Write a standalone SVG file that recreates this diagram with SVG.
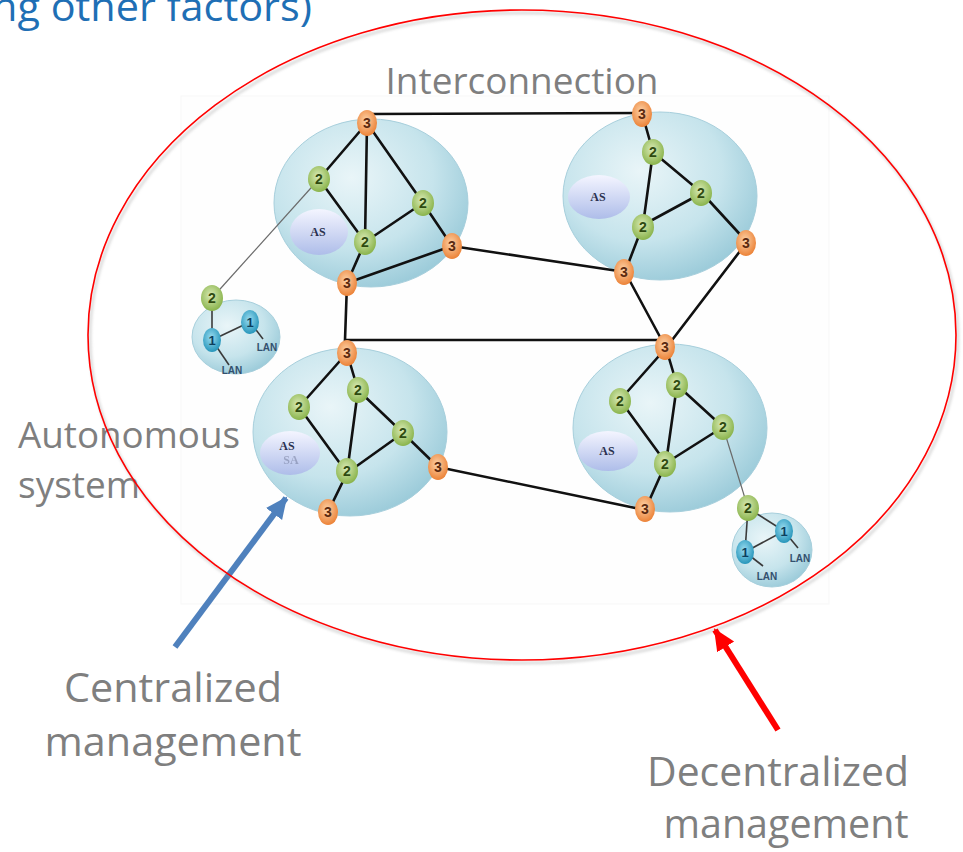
<svg xmlns="http://www.w3.org/2000/svg" width="963" height="852" viewBox="0 0 963 852">
<defs>
<radialGradient id="gAS" cx="40%" cy="35%" r="70%">
<stop offset="0" stop-color="#e9f5f8"/>
<stop offset="0.6" stop-color="#c6e4ec"/>
<stop offset="1" stop-color="#98c9d8"/>
</radialGradient>
<linearGradient id="gLab" x1="0" y1="0" x2="0" y2="1">
<stop offset="0" stop-color="#f4f5ff"/>
<stop offset="1" stop-color="#aebde9"/>
</linearGradient>
<radialGradient id="g3" cx="45%" cy="40%" r="60%">
<stop offset="0" stop-color="#fcd2a8"/>
<stop offset="1" stop-color="#ec8338"/>
</radialGradient>
<radialGradient id="g2" cx="45%" cy="40%" r="60%">
<stop offset="0" stop-color="#d9eab6"/>
<stop offset="1" stop-color="#8ab44c"/>
</radialGradient>
<radialGradient id="g1" cx="45%" cy="40%" r="60%">
<stop offset="0" stop-color="#9adcf0"/>
<stop offset="1" stop-color="#2796bb"/>
</radialGradient>
<marker id="ahB" markerUnits="userSpaceOnUse" markerWidth="24" markerHeight="24" refX="20" refY="12" orient="auto">
<path d="M0,2 L22,12 L0,22 Z" fill="#4f81bd"/>
</marker>
<marker id="ahR" markerUnits="userSpaceOnUse" markerWidth="24" markerHeight="24" refX="20" refY="12" orient="auto">
<path d="M0,2 L22,12 L0,22 Z" fill="#ff0000"/>
</marker>
<filter id="sh" x="-10%" y="-10%" width="120%" height="120%">
<feGaussianBlur stdDeviation="1.5"/>
</filter>
</defs>
<style>
.cl{fill:url(#gAS);stroke:#a7cfdc;stroke-width:1}
.lan{fill:url(#gAS);stroke:#a7cfdc;stroke-width:1}
.lab{fill:url(#gLab)}
.labt{font-family:"Liberation Serif",serif;font-size:12px;font-weight:bold;fill:#2a3150;text-anchor:middle}
.n3{fill:url(#g3)}
.n2{fill:url(#g2)}
.n1{fill:url(#g1)}
.nt{font-family:"Liberation Sans",Arial,sans-serif;font-size:14px;font-weight:bold;text-anchor:middle}
.t3{fill:#5a2a10}
.t2{fill:#2f4a10}
.t1{fill:#0c3f5e;font-size:13px}
.lant{font-family:"Liberation Sans",Arial,sans-serif;font-size:10px;font-weight:bold;fill:#33506e;text-anchor:middle}
.e{stroke:#111;stroke-width:2.6;fill:none;stroke-linecap:round}
.eg{stroke:#6a6a6a;stroke-width:1.2;fill:none}
.eL{stroke:#3a3a3a;stroke-width:1.6;fill:none}
.lbl{font-family:"Open Sans","Noto Sans",sans-serif;fill:#7f7f7f}
</style>
<rect width="963" height="852" fill="#ffffff"/>
<rect x="181" y="96" width="648" height="508" fill="#fefefe" stroke="#f7f7f7" stroke-width="1"/>

<text x="-8" y="21" font-family="'Open Sans','Noto Sans',sans-serif" font-size="41" fill="#1f6fb5" textLength="320" lengthAdjust="spacingAndGlyphs">ng other factors)</text>

<g id="clusters">
<ellipse class="cl" cx="371" cy="203" rx="97" ry="84"/>
<ellipse class="cl" cx="660" cy="196" rx="97" ry="84"/>
<ellipse class="cl" cx="350" cy="432" rx="97" ry="84"/>
<ellipse class="cl" cx="670" cy="428" rx="97" ry="84"/>
<ellipse class="lan" cx="236" cy="337" rx="44" ry="37"/>
<ellipse class="lan" cx="772" cy="550" rx="40" ry="37"/>
</g>

<g id="as-labels">
<g id="as1"><ellipse class="lab" cx="319" cy="232" rx="29" ry="23"/><text class="labt" x="318" y="236">AS</text></g>
<g id="as2"><ellipse class="lab" cx="599" cy="197" rx="31" ry="22"/><text class="labt" x="598" y="201">AS</text></g>
<g id="as3"><ellipse class="lab" cx="290" cy="453" rx="30" ry="22"/><text class="labt" x="287" y="450">AS</text><text class="labt" x="291" y="464" font-size="10" opacity="0.28">SA</text></g>
<g id="as4"><ellipse class="lab" cx="608" cy="451" rx="30" ry="20"/><text class="labt" x="607" y="455">AS</text></g>
</g>

<g id="connectors">
<line class="e" x1="367" y1="123" x2="319" y2="179"/>
<line class="e" x1="367" y1="123" x2="365" y2="242"/>
<line class="e" x1="367" y1="123" x2="423" y2="203"/>
<line class="e" x1="319" y1="179" x2="365" y2="242"/>
<line class="e" x1="423" y1="203" x2="365" y2="242"/>
<line class="e" x1="423" y1="203" x2="452" y2="246"/>
<line class="e" x1="365" y1="242" x2="347" y2="283"/>
<line class="e" x1="347" y1="283" x2="452" y2="246"/>
<polyline class="e" points="370,114 642,113"/>
<line class="e" x1="452" y1="246" x2="625" y2="272"/>
<polyline class="e" points="347,283 345,340 664,340"/>

<line class="e" x1="642" y1="113" x2="653" y2="152"/>
<line class="e" x1="653" y1="152" x2="702" y2="193"/>
<line class="e" x1="653" y1="152" x2="643" y2="225"/>
<line class="e" x1="702" y1="193" x2="643" y2="225"/>
<line class="e" x1="702" y1="193" x2="747" y2="242"/>
<line class="e" x1="643" y1="225" x2="625" y2="272"/>
<line class="e" x1="625" y1="272" x2="666" y2="348"/>
<line class="e" x1="747" y1="242" x2="666" y2="348"/>

<line class="e" x1="347" y1="353" x2="299" y2="407"/>
<line class="e" x1="347" y1="353" x2="358" y2="390"/>
<line class="e" x1="358" y1="390" x2="403" y2="433"/>
<line class="e" x1="358" y1="390" x2="347" y2="473"/>
<line class="e" x1="299" y1="407" x2="347" y2="473"/>
<line class="e" x1="403" y1="433" x2="347" y2="473"/>
<line class="e" x1="403" y1="433" x2="438" y2="467"/>
<line class="e" x1="347" y1="473" x2="328" y2="512"/>
<line class="e" x1="438" y1="467" x2="645" y2="510"/>

<line class="e" x1="666" y1="348" x2="620" y2="400"/>
<line class="e" x1="666" y1="348" x2="677" y2="385"/>
<line class="e" x1="677" y1="385" x2="723" y2="427"/>
<line class="e" x1="677" y1="385" x2="666" y2="463"/>
<line class="e" x1="620" y1="400" x2="666" y2="463"/>
<line class="e" x1="723" y1="427" x2="666" y2="463"/>
<line class="e" x1="666" y1="463" x2="645" y2="510"/>

<line class="eg" x1="319" y1="179" x2="212" y2="298"/>
<line class="eL" x1="212" y1="298" x2="212" y2="340"/>
<line class="eL" x1="212" y1="340" x2="250" y2="322"/>
<line class="eL" x1="250" y1="322" x2="263" y2="339"/>
<line class="eL" x1="212" y1="340" x2="229" y2="365"/>

<line class="eg" x1="723" y1="427" x2="748" y2="508"/>
<line class="eL" x1="748" y1="508" x2="745" y2="552"/>
<line class="eL" x1="748" y1="508" x2="784" y2="531"/>
<line class="eL" x1="745" y1="552" x2="784" y2="531"/>
<line class="eL" x1="784" y1="531" x2="798" y2="548"/>
<line class="eL" x1="745" y1="552" x2="763" y2="566"/>
</g>

<g id="nodes">
<g id="n_tl_3a"><ellipse class="n3" cx="367" cy="123" rx="10" ry="13"/><text class="nt t3" x="367" y="128">3</text></g>
<g id="n_tl_2a"><ellipse class="n2" cx="319" cy="179" rx="11" ry="13"/><text class="nt t2" x="319" y="184">2</text></g>
<g id="n_tl_2b"><ellipse class="n2" cx="423" cy="203" rx="11" ry="13"/><text class="nt t2" x="423" y="208">2</text></g>
<g id="n_tl_2c"><ellipse class="n2" cx="365" cy="242" rx="11" ry="13"/><text class="nt t2" x="365" y="247">2</text></g>
<g id="n_tl_3b"><ellipse class="n3" cx="452" cy="246" rx="10" ry="13"/><text class="nt t3" x="452" y="251">3</text></g>
<g id="n_tl_3c"><ellipse class="n3" cx="347" cy="283" rx="10" ry="13"/><text class="nt t3" x="347" y="288">3</text></g>

<g id="n_tr_3a"><ellipse class="n3" cx="642" cy="114" rx="10" ry="13"/><text class="nt t3" x="642" y="119">3</text></g>
<g id="n_tr_2a"><ellipse class="n2" cx="653" cy="152" rx="11" ry="13"/><text class="nt t2" x="653" y="157">2</text></g>
<g id="n_tr_2b"><ellipse class="n2" cx="701" cy="193" rx="11" ry="13"/><text class="nt t2" x="701" y="198">2</text></g>
<g id="n_tr_2c"><ellipse class="n2" cx="643" cy="227" rx="11" ry="13"/><text class="nt t2" x="643" y="232">2</text></g>
<g id="n_tr_3b"><ellipse class="n3" cx="746" cy="243" rx="10" ry="13"/><text class="nt t3" x="746" y="248">3</text></g>
<g id="n_tr_3c"><ellipse class="n3" cx="624" cy="272" rx="10" ry="13"/><text class="nt t3" x="624" y="277">3</text></g>

<g id="n_bl_3a"><ellipse class="n3" cx="347" cy="353" rx="10" ry="13"/><text class="nt t3" x="347" y="358">3</text></g>
<g id="n_bl_2a"><ellipse class="n2" cx="358" cy="390" rx="11" ry="13"/><text class="nt t2" x="358" y="395">2</text></g>
<g id="n_bl_2b"><ellipse class="n2" cx="299" cy="407" rx="11" ry="13"/><text class="nt t2" x="299" y="412">2</text></g>
<g id="n_bl_2c"><ellipse class="n2" cx="403" cy="433" rx="11" ry="13"/><text class="nt t2" x="403" y="438">2</text></g>
<g id="n_bl_2d"><ellipse class="n2" cx="347" cy="471" rx="11" ry="13"/><text class="nt t2" x="347" y="476">2</text></g>
<g id="n_bl_3b"><ellipse class="n3" cx="438" cy="467" rx="10" ry="13"/><text class="nt t3" x="438" y="472">3</text></g>
<g id="n_bl_3c"><ellipse class="n3" cx="328" cy="512" rx="10" ry="13"/><text class="nt t3" x="328" y="517">3</text></g>

<g id="n_br_3a"><ellipse class="n3" cx="665" cy="347" rx="10" ry="13"/><text class="nt t3" x="665" y="352">3</text></g>
<g id="n_br_2a"><ellipse class="n2" cx="677" cy="385" rx="11" ry="13"/><text class="nt t2" x="677" y="390">2</text></g>
<g id="n_br_2b"><ellipse class="n2" cx="620" cy="401" rx="11" ry="13"/><text class="nt t2" x="620" y="406">2</text></g>
<g id="n_br_2c"><ellipse class="n2" cx="723" cy="427" rx="11" ry="13"/><text class="nt t2" x="723" y="432">2</text></g>
<g id="n_br_2d"><ellipse class="n2" cx="665" cy="464" rx="11" ry="13"/><text class="nt t2" x="665" y="469">2</text></g>
<g id="n_br_3b"><ellipse class="n3" cx="645" cy="509" rx="10" ry="13"/><text class="nt t3" x="645" y="514">3</text></g>

<g id="n_ll_2"><ellipse class="n2" cx="212" cy="298" rx="11" ry="13"/><text class="nt t2" x="212" y="303">2</text></g>
<g id="n_ll_1a"><ellipse class="n1" cx="212" cy="340" rx="9" ry="12"/><text class="nt t1" x="212" y="345">1</text></g>
<g id="n_ll_1b"><ellipse class="n1" cx="250" cy="322" rx="9" ry="12"/><text class="nt t1" x="250" y="327">1</text></g>
<g id="lan_ll_a"><text class="lant" x="267" y="351">LAN</text></g>
<g id="lan_ll_b"><text class="lant" x="232" y="374">LAN</text></g>

<g id="n_lr_2"><ellipse class="n2" cx="748" cy="508" rx="11" ry="13"/><text class="nt t2" x="748" y="513">2</text></g>
<g id="n_lr_1a"><ellipse class="n1" cx="745" cy="552" rx="9" ry="12"/><text class="nt t1" x="745" y="557">1</text></g>
<g id="n_lr_1b"><ellipse class="n1" cx="784" cy="531" rx="9" ry="12"/><text class="nt t1" x="784" y="536">1</text></g>
<g id="lan_lr_a"><text class="lant" x="800" y="562">LAN</text></g>
<g id="lan_lr_b"><text class="lant" x="767" y="580">LAN</text></g>
</g>

<g id="labels">
<text class="lbl" x="522" y="94" font-size="37" text-anchor="middle" textLength="273" lengthAdjust="spacingAndGlyphs">Interconnection</text>
<text class="lbl" x="18" y="448" font-size="37" textLength="222" lengthAdjust="spacingAndGlyphs">Autonomous</text>
<text class="lbl" x="18" y="498" font-size="37">system</text>
<text class="lbl" x="173" y="702" font-size="41" text-anchor="middle" textLength="218" lengthAdjust="spacingAndGlyphs">Centralized</text>
<text class="lbl" x="173" y="756" font-size="41" text-anchor="middle" textLength="257" lengthAdjust="spacingAndGlyphs">management</text>
<text class="lbl" x="778" y="786" font-size="41" text-anchor="middle" textLength="262" lengthAdjust="spacingAndGlyphs">Decentralized</text>
<text class="lbl" x="786" y="838" font-size="40" text-anchor="middle" textLength="245" lengthAdjust="spacingAndGlyphs">management</text>
</g>

<g id="arrows">
<line x1="175" y1="647" x2="286" y2="498" stroke="#4f81bd" stroke-width="6" marker-end="url(#ahB)"/>
</g>

<g id="decentralized-boundary">
<ellipse cx="524" cy="338" rx="434" ry="325" fill="none" stroke="#999" stroke-width="2" opacity="0.5" filter="url(#sh)"/>
<ellipse cx="522" cy="335" rx="434" ry="325" fill="none" stroke="#ff0000" stroke-width="1.6"/>
</g>

<g id="arrow-red">
<line x1="778" y1="730" x2="715" y2="630" stroke="#ff0000" stroke-width="6" marker-end="url(#ahR)"/>
</g>
</svg>
